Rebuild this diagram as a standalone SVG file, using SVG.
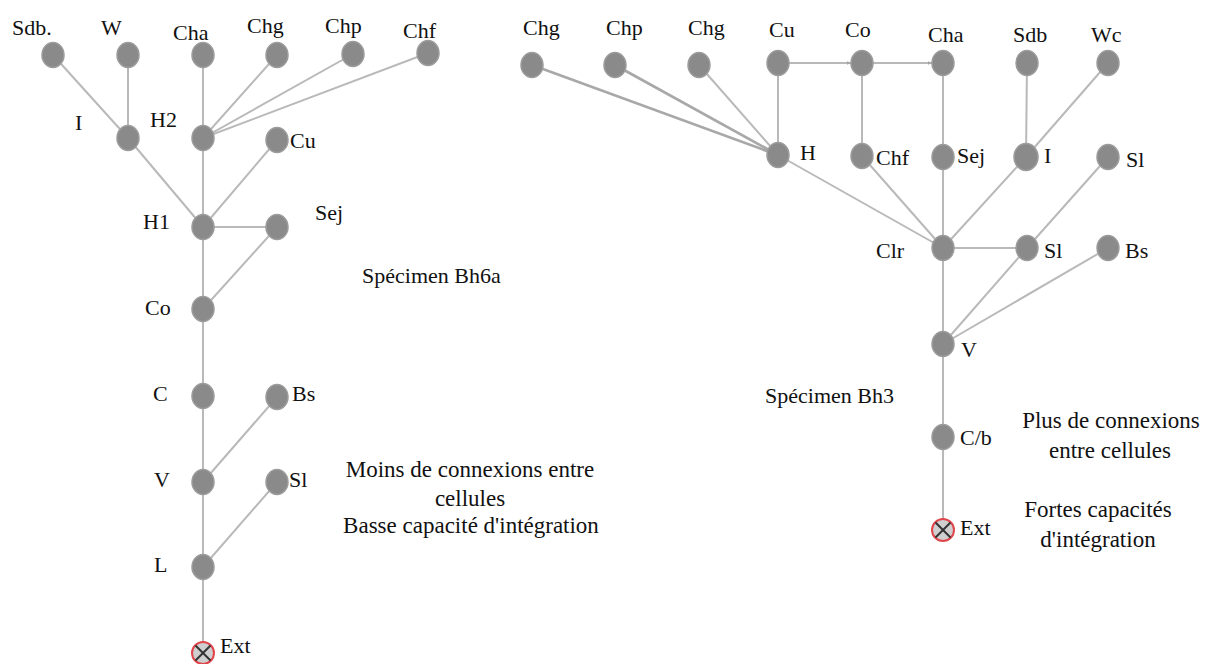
<svg xmlns="http://www.w3.org/2000/svg" width="1210" height="664" viewBox="0 0 1210 664">
  <style>
    .edge { stroke: #b9b9b9; stroke-width: 2; fill: none; }
    .edge.bold { stroke: #a8a8a8; stroke-width: 2.8; }
    .cell { fill: #8a8a8a; stroke: #9c9c9c; stroke-width: 1.5; }
    .ext { fill: #cfcfcf; stroke: #e0474c; stroke-width: 2; }
    .cross { stroke: #333; stroke-width: 2; }
    text { fill: #111; }
    .lbl { font-size: 22px; }
    .note { font-size: 23px; }
  </style>
  <defs>
    <marker id="tip" viewBox="0 0 6 6" refX="6" refY="3" markerWidth="4" markerHeight="4" orient="auto" markerUnits="userSpaceOnUse">
      <path d="M0,0.5 L6,3 L0,5.5 z" fill="#a5a5a5"/>
    </marker>
    <g id="extSym">
      <circle r="11" class="ext"/>
      <line x1="-7.5" y1="-7.5" x2="7.5" y2="7.5" class="cross"/>
      <line x1="-7.5" y1="7.5" x2="7.5" y2="-7.5" class="cross"/>
    </g>
  </defs>
  <rect width="1210" height="664" fill="#ffffff"/>

  <!-- connectors -->
  <g id="connectors">
    <!-- specimen Bh6a -->
    <line class="edge" x1="53" y1="55" x2="128" y2="138"/>
    <line class="edge" x1="128" y1="55" x2="128" y2="138"/>
    <line class="edge" x1="128" y1="138" x2="203" y2="227"/>
    <line class="edge" x1="203" y1="55" x2="203" y2="138"/>
    <line class="edge" x1="277" y1="55" x2="203" y2="138"/>
    <line class="edge" x1="353" y1="54" x2="203" y2="138"/>
    <line class="edge" x1="428" y1="53" x2="203" y2="138"/>
    <line class="edge" x1="203" y1="138" x2="203" y2="227"/>
    <line class="edge" x1="277" y1="140" x2="203" y2="227"/>
    <line class="edge" x1="203" y1="227" x2="277" y2="227"/>
    <line class="edge" x1="277" y1="227" x2="203" y2="309"/>
    <line class="edge" x1="203" y1="227" x2="203" y2="309"/>
    <line class="edge" x1="203" y1="309" x2="203" y2="396"/>
    <line class="edge" x1="203" y1="396" x2="203" y2="482"/>
    <line class="edge" x1="277" y1="397" x2="203" y2="482"/>
    <line class="edge" x1="203" y1="482" x2="203" y2="567"/>
    <line class="edge" x1="277" y1="482" x2="203" y2="567"/>
    <line class="edge" x1="203" y1="567" x2="203" y2="653"/>
    <!-- specimen Bh3 -->
    <line class="edge bold" x1="532" y1="65" x2="778" y2="155"/>
    <line class="edge bold" x1="615" y1="65" x2="778" y2="155"/>
    <line class="edge" x1="699" y1="65" x2="778" y2="155"/>
    <line class="edge" x1="778" y1="63" x2="778" y2="155"/>
    <line class="edge" x1="778" y1="63" x2="851" y2="63" marker-end="url(#tip)"/>
    <line class="edge" x1="862" y1="63" x2="932" y2="63" marker-end="url(#tip)"/>
    <line class="edge" x1="862" y1="63" x2="862" y2="156"/>
    <line class="edge" x1="943" y1="63" x2="943" y2="157"/>
    <line class="edge" x1="778" y1="155" x2="943" y2="248"/>
    <line class="edge" x1="862" y1="156" x2="943" y2="248"/>
    <line class="edge" x1="943" y1="157" x2="943" y2="248"/>
    <line class="edge" x1="1027" y1="63" x2="1026" y2="157"/>
    <line class="edge" x1="1108" y1="63" x2="1026" y2="157"/>
    <line class="edge" x1="1026" y1="157" x2="943" y2="248"/>
    <line class="edge" x1="943" y1="248" x2="1027" y2="248"/>
    <line class="edge" x1="1108" y1="157" x2="1027" y2="248"/>
    <line class="edge" x1="1027" y1="248" x2="943" y2="344"/>
    <line class="edge" x1="1108" y1="248" x2="943" y2="344"/>
    <line class="edge" x1="943" y1="248" x2="943" y2="344"/>
    <line class="edge" x1="943" y1="344" x2="943" y2="437"/>
    <line class="edge" x1="943" y1="437" x2="943" y2="530"/>
  </g>

  <g font-family="'Liberation Serif', 'DejaVu Serif', 'Times New Roman', serif">
  <!-- specimen Bh6a nodes -->
  <g id="a-sdb"><ellipse class="cell" cx="53" cy="55" rx="11" ry="12.5"/><text class="lbl" x="12" y="35">Sdb.</text></g>
  <g id="a-w"><ellipse class="cell" cx="128" cy="55" rx="11" ry="12.5"/><text class="lbl" x="101" y="35">W</text></g>
  <g id="a-cha"><ellipse class="cell" cx="203" cy="55" rx="11" ry="12.5"/><text class="lbl" x="173" y="40">Cha</text></g>
  <g id="a-chg"><ellipse class="cell" cx="277" cy="55" rx="11" ry="12.5"/><text class="lbl" x="247" y="33">Chg</text></g>
  <g id="a-chp"><ellipse class="cell" cx="353" cy="54" rx="11" ry="12.5"/><text class="lbl" x="325" y="33">Chp</text></g>
  <g id="a-chf"><ellipse class="cell" cx="428" cy="53" rx="11" ry="12.5"/><text class="lbl" x="403" y="38">Chf</text></g>
  <g id="a-i"><ellipse class="cell" cx="128" cy="138" rx="11" ry="12.5"/><text class="lbl" x="75" y="130">I</text></g>
  <g id="a-h2"><ellipse class="cell" cx="203" cy="138" rx="11" ry="12.5"/><text class="lbl" x="150" y="127">H2</text></g>
  <g id="a-cu"><ellipse class="cell" cx="277" cy="140" rx="11" ry="12.5"/><text class="lbl" x="290" y="148">Cu</text></g>
  <g id="a-h1"><ellipse class="cell" cx="203" cy="227" rx="11" ry="12.5"/><text class="lbl" x="143" y="229">H1</text></g>
  <g id="a-sej"><ellipse class="cell" cx="277" cy="227" rx="11" ry="12.5"/><text class="lbl" x="315" y="220">Sej</text></g>
  <g id="a-co"><ellipse class="cell" cx="203" cy="309" rx="11" ry="12.5"/><text class="lbl" x="145" y="315">Co</text></g>
  <g id="a-c"><ellipse class="cell" cx="203" cy="396" rx="11" ry="12.5"/><text class="lbl" x="153" y="401">C</text></g>
  <g id="a-bs"><ellipse class="cell" cx="277" cy="397" rx="11" ry="12.5"/><text class="lbl" x="292" y="401">Bs</text></g>
  <g id="a-v"><ellipse class="cell" cx="203" cy="482" rx="11" ry="12.5"/><text class="lbl" x="154" y="487">V</text></g>
  <g id="a-sl"><ellipse class="cell" cx="277" cy="482" rx="11" ry="12.5"/><text class="lbl" x="289" y="487">Sl</text></g>
  <g id="a-l"><ellipse class="cell" cx="203" cy="567" rx="11" ry="12.5"/><text class="lbl" x="154" y="572">L</text></g>
  <g id="a-ext"><use href="#extSym" x="203" y="653"/><text class="lbl" x="220" y="653">Ext</text></g>

  <!-- specimen Bh6a captions -->
  <g id="a-caption">
    <text class="lbl" x="362" y="283">Spécimen Bh6a</text>
    <text class="note" x="470" y="477" text-anchor="middle">Moins de connexions entre</text>
    <text class="note" x="470" y="506" text-anchor="middle">cellules</text>
    <text class="note" x="471" y="533" text-anchor="middle">Basse capacité d'intégration</text>
  </g>

  <!-- specimen Bh3 nodes -->
  <g id="b-chg1"><ellipse class="cell" cx="532" cy="65" rx="11" ry="12.5"/><text class="lbl" x="523" y="35">Chg</text></g>
  <g id="b-chp"><ellipse class="cell" cx="615" cy="65" rx="11" ry="12.5"/><text class="lbl" x="606" y="35">Chp</text></g>
  <g id="b-chg2"><ellipse class="cell" cx="699" cy="65" rx="11" ry="12.5"/><text class="lbl" x="688" y="35">Chg</text></g>
  <g id="b-cu"><ellipse class="cell" cx="778" cy="63" rx="11" ry="12.5"/><text class="lbl" x="769" y="37">Cu</text></g>
  <g id="b-co"><ellipse class="cell" cx="862" cy="63" rx="11" ry="12.5"/><text class="lbl" x="845" y="37">Co</text></g>
  <g id="b-cha"><ellipse class="cell" cx="943" cy="63" rx="11" ry="12.5"/><text class="lbl" x="928" y="42">Cha</text></g>
  <g id="b-sdb"><ellipse class="cell" cx="1027" cy="63" rx="11" ry="12.5"/><text class="lbl" x="1013" y="42">Sdb</text></g>
  <g id="b-wc"><ellipse class="cell" cx="1108" cy="63" rx="11" ry="12.5"/><text class="lbl" x="1091" y="42">Wc</text></g>
  <g id="b-h"><ellipse class="cell" cx="778" cy="155" rx="11" ry="12.5"/><text class="lbl" x="800" y="160">H</text></g>
  <g id="b-chf"><ellipse class="cell" cx="862" cy="156" rx="11" ry="12.5"/><text class="lbl" x="876" y="165">Chf</text></g>
  <g id="b-sej"><ellipse class="cell" cx="943" cy="157" rx="11" ry="12.5"/><text class="lbl" x="957" y="163">Sej</text></g>
  <g id="b-i"><ellipse class="cell" cx="1026" cy="157" rx="12" ry="13.5"/><text class="lbl" x="1044" y="163">I</text></g>
  <g id="b-sl1"><ellipse class="cell" cx="1108" cy="157" rx="11" ry="12.5"/><text class="lbl" x="1126" y="167">Sl</text></g>
  <g id="b-clr"><ellipse class="cell" cx="943" cy="248" rx="11" ry="12.5"/><text class="lbl" x="876" y="258">Clr</text></g>
  <g id="b-sl2"><ellipse class="cell" cx="1027" cy="248" rx="11" ry="12.5"/><text class="lbl" x="1044" y="258">Sl</text></g>
  <g id="b-bs"><ellipse class="cell" cx="1108" cy="248" rx="11" ry="12.5"/><text class="lbl" x="1125" y="258">Bs</text></g>
  <g id="b-v"><ellipse class="cell" cx="943" cy="344" rx="11" ry="12.5"/><text class="lbl" x="961" y="357">V</text></g>
  <g id="b-cb"><ellipse class="cell" cx="943" cy="437" rx="11" ry="12.5"/><text class="lbl" x="960" y="445">C/b</text></g>
  <g id="b-ext"><use href="#extSym" x="943" y="530"/><text class="lbl" x="960" y="535">Ext</text></g>

  <!-- specimen Bh3 captions -->
  <g id="b-caption">
    <text class="lbl" x="765" y="403">Spécimen Bh3</text>
    <text class="note" x="1111" y="428" text-anchor="middle">Plus de connexions</text>
    <text class="note" x="1110" y="458" text-anchor="middle">entre cellules</text>
    <text class="note" x="1098" y="517" text-anchor="middle">Fortes capacités</text>
    <text class="note" x="1098" y="547" text-anchor="middle">d'intégration</text>
  </g>
  </g>
</svg>
